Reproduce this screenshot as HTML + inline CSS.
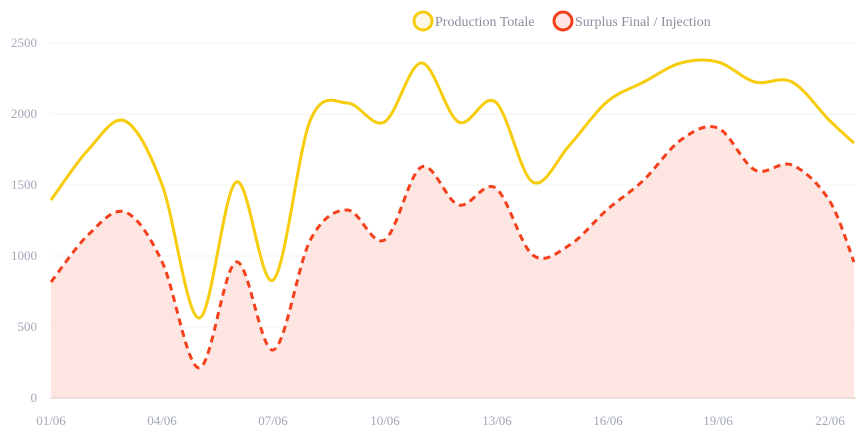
<!DOCTYPE html>
<html><head><meta charset="utf-8"><style>
html,body{margin:0;padding:0;background:#fff;}
svg{display:block;font-family:"Liberation Serif",serif;}
</style></head><body>
<svg id="s" width="856" height="436" viewBox="0 0 856 436">
<g stroke="#f3f3f6" stroke-width="1">
<line x1="50" x2="856" y1="43" y2="43"/><line x1="50" x2="856" y1="114" y2="114"/>
<line x1="50" x2="856" y1="185" y2="185"/><line x1="50" x2="856" y1="256" y2="256"/>
<line x1="50" x2="856" y1="327" y2="327"/>
</g>
<g fill="#a3a8b8" font-size="13" text-anchor="end">
<text x="37" y="47">2500</text><text x="37" y="118">2000</text><text x="37" y="189">1500</text>
<text x="37" y="260">1000</text><text x="37" y="331">500</text><text x="37" y="402">0</text>
</g>
<g fill="#a3a8b8" font-size="13" text-anchor="middle">
<text x="51" y="425">01/06</text><text x="162" y="425">04/06</text><text x="273" y="425">07/06</text>
<text x="385" y="425">10/06</text><text x="497" y="425">13/06</text><text x="608" y="425">16/06</text>
<text x="718" y="425">19/06</text><text x="830" y="425">22/06</text>
</g>
<path id="area" fill="#fde6e2"/>
<line x1="50" x2="856" y1="398" y2="398" stroke="#ead6d4" stroke-width="1.5"/>
<path id="yl" fill="none" stroke="#f7cc0c" stroke-width="3"/>
<path id="rl" fill="none" stroke="#f5401c" stroke-width="3" stroke-dasharray="7,5"/>
<circle cx="423" cy="21" r="9" fill="#fff8e6" stroke="#f7cc0c" stroke-width="3"/>
<text x="435" y="26" fill="#8a8f9e" font-size="14">Production Totale</text>
<circle cx="563" cy="21" r="9" fill="#fde6e2" stroke="#f5401c" stroke-width="3"/>
<text x="575" y="26" fill="#8a8f9e" font-size="14">Surplus Final / Injection</text>
</svg>
<script>
var Y=[200,150,121,185,318,182,280,120,103,122,63,122,102,182,145,102,82,63,62,82,82,120,143];
var R=[282,235,212,262,368,262,350,240,210,240,167,205,188,255,245,210,180,140,128,170,165,200,262];
function X(i){return i<22?51+37.05*i:854;}
function path(a){var p=a.map(function(y,i){return [X(i),y];});var d="M"+p[0][0]+","+p[0][1];
for(var i=0;i<p.length-1;i++){var p0=p[i-1]||p[i],p1=p[i],p2=p[i+1],p3=p[i+2]||p2;
var c1=[p1[0]+(p2[0]-p0[0])/6,p1[1]+(p2[1]-p0[1])/6],c2=[p2[0]-(p3[0]-p1[0])/6,p2[1]-(p3[1]-p1[1])/6];
d+="C"+c1[0].toFixed(1)+","+c1[1].toFixed(1)+" "+c2[0].toFixed(1)+","+c2[1].toFixed(1)+" "+p2[0]+","+p2[1];}
return d;}
document.getElementById("yl").setAttribute("d",path(Y));
var r=path(R);document.getElementById("rl").setAttribute("d",r);
document.getElementById("area").setAttribute("d",r+"L854,398L51,398Z");
</script>
</body></html>
